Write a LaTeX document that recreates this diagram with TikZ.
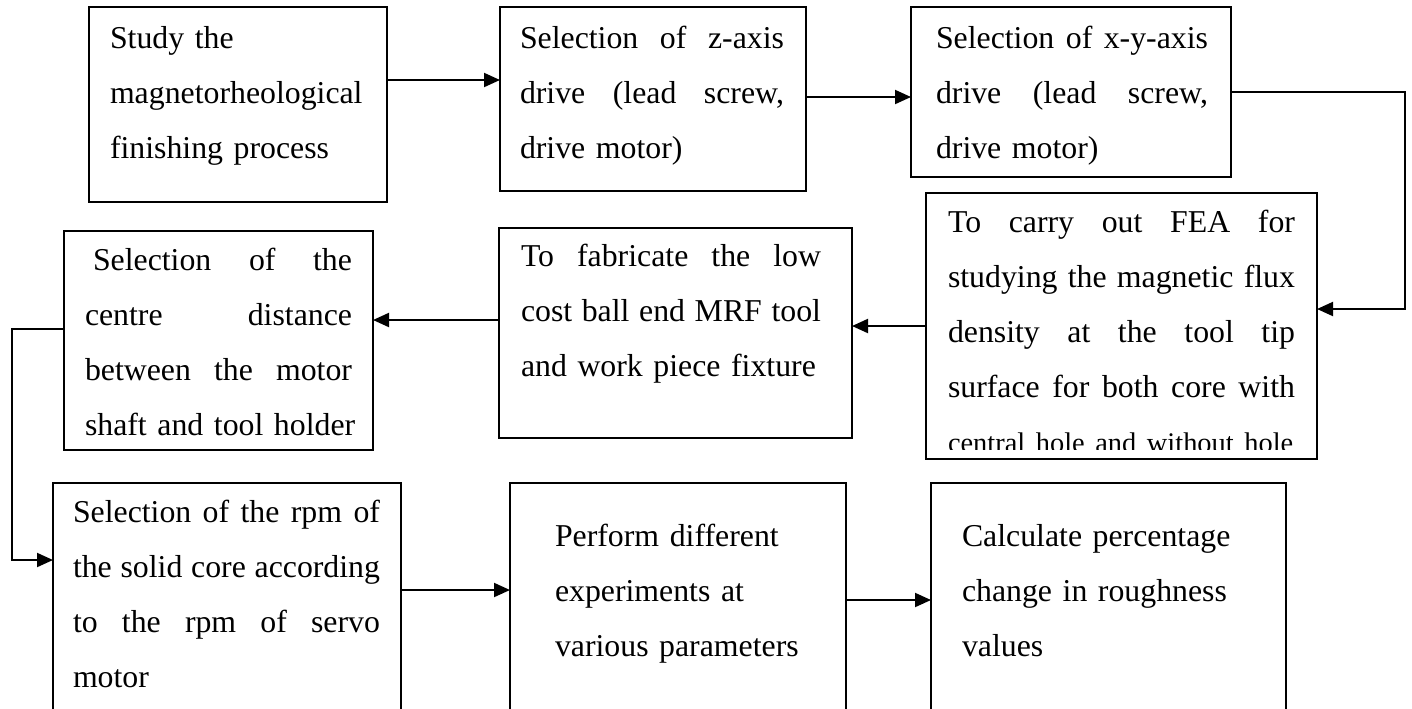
\documentclass[tikz,border=0pt]{standalone}
\usepackage{fontspec}
\setmainfont{Liberation Serif}
\usetikzlibrary{arrows.meta}
\newcommand\jl[2]{\makebox[#1][s]{#2}}
\newcommand\gp{\hfill}
\begin{document}
\begin{tikzpicture}[x=0.5pt,y=-0.5pt,
  box/.style={draw, line width=1pt, inner sep=0pt, outer sep=0pt, anchor=north west},
  txt/.style={inner sep=0pt, outer sep=0pt, anchor=base west, align=left,
              font=\fontsize{15.9}{27.5}\selectfont},
  arr/.style={line width=1pt, -{Triangle[length=8pt,width=7pt]}}]
\clip (0,0) rectangle (1412,708);
\fill[white] (0,0) rectangle (1412,708);

% boxes
\node[box, minimum width=149pt, minimum height=97.5pt] (A) at (89,7) {};
\node[box, minimum width=153pt, minimum height=92pt]   (B) at (500,7) {};
\node[box, minimum width=160pt, minimum height=85pt]   (C) at (911,7) {};
\node[box, minimum width=195.5pt, minimum height=133pt] (D) at (926,193) {};
\node[box, minimum width=176.5pt, minimum height=105pt] (E) at (499,228) {};
\node[box, minimum width=154.5pt, minimum height=109.5pt] (F) at (64,231) {};
\node[box, minimum width=174pt, minimum height=150pt] (G) at (53,483) {};
\node[box, minimum width=168pt, minimum height=150pt] (H) at (510,483) {};
\node[box, minimum width=177.5pt, minimum height=150pt] (I) at (931,483) {};

% texts
\node[txt, text width=135pt] (At) at (110,48) {\mbox{Study the}\\\mbox{magnetorheological}\\\mbox{finishing process}};
\node[txt, text width=132pt] (Bt) at (520,48) {\jl{132pt}{Selection\gp of\gp z-axis}\\\jl{132pt}{drive\gp (lead\gp screw,}\\\mbox{drive motor)}};
\node[txt, text width=136pt] (Ct) at (936,48) {\jl{136pt}{Selection\gp of\gp x-y-axis}\\\jl{136pt}{drive\gp (lead\gp screw,}\\\mbox{drive motor)}};
\begin{scope}
\clip (926,193) rectangle (1317,449);
\node[txt, text width=173.5pt] (Dt) at (948,232) {\jl{173.5pt}{To\gp carry\gp out\gp FEA\gp for}\\\jl{173.5pt}{studying\gp the\gp magnetic\gp flux}\\\jl{173.5pt}{density\gp at\gp the\gp tool\gp tip}\\\jl{173.5pt}{surface\gp for\gp both\gp core\gp with}\\\mbox{\fontsize{14.2}{27.5}\selectfont central hole and without hole}};
\end{scope}
\node[txt, text width=150pt] (Et) at (521,266) {\jl{150pt}{To\gp fabricate\gp the\gp low}\\\jl{150pt}{cost\gp ball\gp end\gp MRF\gp tool}\\\mbox{and work piece fixture}};
\node[txt, text width=133.5pt] (Ft) at (85,270) {\hspace*{4pt}\jl{129.5pt}{Selection\gp of\gp the}\\\jl{133.5pt}{centre\gp distance}\\\jl{133.5pt}{between\gp the\gp motor}\\\mbox{shaft and tool holder}};
\node[txt, text width=153.5pt] (Gt) at (73,522) {\jl{153.5pt}{Selection\gp of\gp the\gp rpm\gp of}\\\jl{153.5pt}{the\gp solid\gp core\gp according}\\\jl{153.5pt}{to\gp the\gp rpm\gp of\gp servo}\\\mbox{motor}};
\node[txt, text width=140pt] (Ht) at (555,546) {\mbox{Perform different}\\\mbox{experiments at}\\\mbox{various parameters}};
\node[txt, text width=150pt] (It) at (962,546) {\mbox{Calculate percentage}\\\mbox{change in roughness}\\\mbox{values}};

% connectors
\draw[arr] ([yshift=12.25pt]A.east) -- ([yshift=12.25pt]A.east -| B.west);
\draw[arr] ([yshift=1pt]B.east) -- ([yshift=1pt]B.east -| C.west);
\draw[arr] (C.east) -- ++(87pt,0) |- ([yshift=8.5pt]D.east);
\draw[arr] (D.west) -- (D.west -| E.east);
\draw[arr] ([yshift=6.5pt]E.west) -- ([yshift=6.5pt]E.west -| F.east);
\draw[arr] ([yshift=5.75pt]F.west) -- ++(-26pt,0) |- ([yshift=-38.5pt]G.north west);
\draw[arr] ([yshift=-53.5pt]G.north east) -- ([yshift=-53.5pt]G.north east -| H.west);
\draw[arr] ([yshift=-58.5pt]H.north east) -- ([yshift=-58.5pt]H.north east -| I.west);
\end{tikzpicture}
\end{document}
